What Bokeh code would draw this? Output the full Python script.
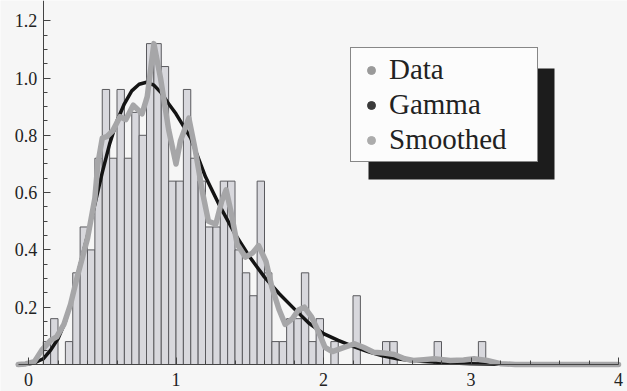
import numpy as np
from bokeh.plotting import figure
from bokeh.models import (LinearAxis, FixedTicker, Range1d, Legend, LegendItem,
                          BoxAnnotation)
from bokeh.embed import file_html
from bokeh.resources import INLINE

# ---------------- data ----------------
bin_width = 0.05
bin_left = [0.10, 0.15, 0.25, 0.30, 0.35, 0.40, 0.45, 0.50, 0.55, 0.60, 0.65, 0.70,
            0.75, 0.80, 0.85, 0.90, 0.95, 1.00, 1.05, 1.10, 1.15, 1.20, 1.25, 1.30,
            1.35, 1.40, 1.45, 1.50, 1.55, 1.60, 1.65, 1.70, 1.75, 1.80, 1.85, 1.90,
            1.95, 2.05, 2.20, 2.40, 2.45, 2.75, 3.05]
bin_height = [0.08, 0.16, 0.08, 0.32, 0.48, 0.40, 0.72, 0.96, 0.72, 0.96, 0.72, 0.88,
              0.80, 1.12, 1.12, 1.04, 0.64, 0.64, 0.96, 0.72, 0.64, 0.48, 0.48, 0.64,
              0.64, 0.40, 0.32, 0.24, 0.64, 0.32, 0.08, 0.08, 0.16, 0.16, 0.32, 0.08,
              0.16, 0.08, 0.24, 0.08, 0.08, 0.08, 0.08]

gamma_x = [-0.05, 0.0, 0.05, 0.10, 0.15, 0.20, 0.25, 0.30, 0.35, 0.40, 0.45, 0.50,
           0.55, 0.60, 0.65, 0.70, 0.75, 0.80, 0.85, 0.90, 0.95, 1.00, 1.10, 1.20,
           1.30, 1.40, 1.50, 1.60, 1.70, 1.80, 1.90, 2.00, 2.10, 2.20, 2.30, 2.40,
           2.50, 2.60, 2.80, 3.00, 3.20, 3.50, 4.00]
gamma_y = [0.0, 0.002, 0.008, 0.02, 0.05, 0.09, 0.15, 0.24, 0.35, 0.45, 0.56, 0.67,
           0.77, 0.85, 0.91, 0.955, 0.978, 0.985, 0.975, 0.948, 0.91, 0.875, 0.79, 0.655,
           0.55, 0.456, 0.375, 0.305, 0.247, 0.195, 0.145, 0.108, 0.084, 0.063, 0.045, 0.03,
           0.02, 0.013, 0.007, 0.003, 0.001, 0.0, 0.0]

smooth_x = [-0.07, -0.02, 0.04, 0.09, 0.15, 0.19, 0.24, 0.285, 0.33, 0.40, 0.45, 0.47,
            0.50, 0.53, 0.57, 0.62, 0.66, 0.71, 0.77, 0.805, 0.85, 0.895, 0.95, 1.00,
            1.03, 1.087, 1.13, 1.18, 1.22, 1.27, 1.31, 1.34, 1.37, 1.415, 1.47, 1.52,
            1.56, 1.61, 1.65, 1.70, 1.74, 1.79, 1.83, 1.87, 1.92, 1.97, 2.01, 2.06,
            2.14, 2.21, 2.27, 2.34, 2.41, 2.48, 2.55, 2.61, 2.68, 2.75, 2.86, 2.95,
            3.02, 3.11, 3.20, 3.30, 4.00]
smooth_y = [0.0, 0.002, 0.01, 0.05, 0.084, 0.096, 0.14, 0.21, 0.305, 0.44, 0.58, 0.70,
            0.79, 0.795, 0.815, 0.865, 0.855, 0.905, 0.875, 0.935, 1.12, 1.0, 0.82, 0.70,
            0.78, 0.86, 0.75, 0.60, 0.50, 0.49, 0.57, 0.61, 0.54, 0.42, 0.375, 0.39,
            0.415, 0.36, 0.27, 0.19, 0.14, 0.16, 0.19, 0.20, 0.165, 0.11, 0.06, 0.045,
            0.06, 0.072, 0.06, 0.043, 0.04, 0.035, 0.02, 0.014, 0.017, 0.02, 0.014, 0.016,
            0.02, 0.014, 0.003, 0.0, 0.0]

x_ticks = [0, 1, 2, 3, 4]
x_tick_labels = ["0", "1", "2", "3", "4"]
x_minor = [0.2, 0.4, 0.6, 0.8, 1.2, 1.4, 1.6, 1.8, 2.2, 2.4, 2.6, 2.8,
           3.2, 3.4, 3.6, 3.8]
y_ticks = [0.2, 0.4, 0.6, 0.8, 1.0, 1.2]
y_tick_labels = ["0.2", "0.4", "0.6", "0.8", "1.0", "1.2"]
y_minor = [0.05, 0.1, 0.15, 0.25, 0.3, 0.35, 0.45, 0.5, 0.55, 0.65, 0.7, 0.75,
           0.85, 0.9, 0.95, 1.05, 1.1, 1.15]
legend_labels = ["Data", "Gamma", "Smoothed"]

# ---------------- layout (pixels) ----------------
W, H = 627, 391
PX0, SX = 28.0, 147.5      # canvas x of x=0, px per unit
PY0, SY = 364.0, 286.5     # canvas y of y=0, px per unit

x0, x1 = -PX0 / SX, (W - PX0) / SX
y1, y0 = PY0 / SY, (PY0 - H) / SY

BG = "#f6f6f6"
FONT = "Liberation Serif"

p = figure(width=W, height=H, x_range=Range1d(x0, x1), y_range=Range1d(y0, y1),
           output_backend="svg", toolbar_location=None,
           x_axis_type=None, y_axis_type=None)
p.min_border_left = p.min_border_right = p.min_border_top = p.min_border_bottom = 0
p.background_fill_color = BG
p.border_fill_color = BG
p.outline_line_color = None
p.xgrid.visible = False
p.ygrid.visible = False

# histogram
bin_right = [b + bin_width for b in bin_left]
p.quad(left=bin_left, right=bin_right, bottom=0, top=bin_height,
       fill_color="#d8d8dd", line_color="#5a5a5e", line_width=1)

# curves
p.line(gamma_x, gamma_y, line_color="#141414", line_width=3.5, line_join="round")
p.line(smooth_x, smooth_y, line_color="#a6a6a8", line_width=5.5, line_join="round",
       line_cap="round")

# axes
def make_axis(loc, ticks, minor, labels, bounds, standoff):
    ax = LinearAxis(fixed_location=loc,
                    ticker=FixedTicker(ticks=ticks, minor_ticks=minor),
                    bounds=bounds,
                    major_label_text_font=FONT,
                    major_label_text_font_size="18px",
                    major_label_text_color="#222222",
                    major_label_standoff=standoff,
                    axis_line_color="#444444",
                    major_tick_line_color="#444444",
                    minor_tick_line_color="#444444",
                    major_tick_in=7, major_tick_out=0,
                    minor_tick_in=4, minor_tick_out=0)
    ax.major_label_overrides = dict(zip(ticks, labels))
    return ax

xaxis = make_axis(0, x_ticks, x_minor, x_tick_labels, (min(smooth_x), max(x_ticks)), 8)
p.add_layout(xaxis, "below")
yaxis = make_axis(bin_left[0], y_ticks, y_minor, y_tick_labels, (0, y1), 6)
p.add_layout(yaxis, "left")

# legend shadow (canvas px -> data)
def cx(px):
    return (px - PX0) / SX

def cy(py):
    return (PY0 - py) / SY

shadow = BoxAnnotation(left=cx(368), right=cx(554), top=cy(68), bottom=cy(179),
                       fill_color="#1c1c1c", fill_alpha=1.0, line_color=None)
p.add_layout(shadow)

# legend proxies
r_data = p.scatter(x=[np.nan], y=[np.nan], marker="circle", size=8, color="#9a9a9a")
r_gamma = p.scatter(x=[np.nan], y=[np.nan], marker="circle", size=8, color="#3a3a3a")
r_smooth = p.scatter(x=[np.nan], y=[np.nan], marker="circle", size=8, color="#acacac")

legend = Legend(items=[LegendItem(label=legend_labels[0], renderers=[r_data]),
                       LegendItem(label=legend_labels[1], renderers=[r_gamma]),
                       LegendItem(label=legend_labels[2], renderers=[r_smooth])],
                location=(350, H - 162))
legend.border_line_color = "#111111"
legend.border_line_width = 1
legend.background_fill_color = "#fcfcfc"
legend.background_fill_alpha = 1.0
legend.label_text_font = FONT
legend.label_text_font_size = "29px"
legend.label_text_color = "#222222"
legend.padding = 5
legend.spacing = 2
legend.margin = 0
legend.glyph_width = 30
legend.glyph_height = 20
legend.label_standoff = 3
legend.label_width = 143
p.add_layout(legend)

open("out.html", "w").write(file_html(p, INLINE))
